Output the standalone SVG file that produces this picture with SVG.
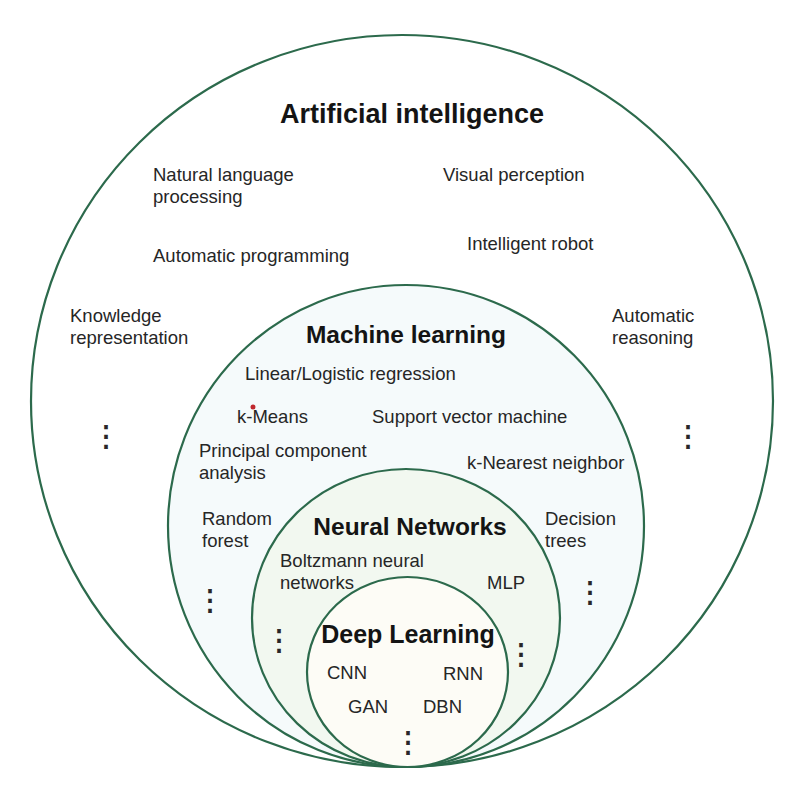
<svg xmlns="http://www.w3.org/2000/svg" width="800" height="801" viewBox="0 0 800 801">
<style>
.ring{stroke:#2c6a4c;stroke-width:2.2}
.t{font-family:"Liberation Sans",Arial,sans-serif;font-size:18.5px;fill:#262626}
.h{font-family:"Liberation Sans",Arial,sans-serif;font-weight:bold;fill:#141414}
.d{font-family:"DejaVu Sans",sans-serif;font-size:29px;fill:#262626;stroke:#262626;stroke-width:0.6;text-anchor:middle}
</style>
<rect width="800" height="801" fill="#ffffff"/>
<g id="artificial-intelligence">
<ellipse class="ring" cx="402" cy="401" rx="371" ry="366" fill="#ffffff"/>
<text class="h" x="412" y="123" font-size="27" text-anchor="middle">Artificial intelligence</text>
<text class="t" x="153" y="181">Natural language</text>
<text class="t" x="153" y="203">processing</text>
<text class="t" x="443" y="181">Visual perception</text>
<text class="t" x="153" y="262">Automatic programming</text>
<text class="t" x="467" y="250">Intelligent robot</text>
<text class="t" x="70" y="322">Knowledge</text>
<text class="t" x="70" y="344">representation</text>
<text class="t" x="612" y="322">Automatic</text>
<text class="t" x="612" y="344">reasoning</text>
<text class="d" x="106" y="446">⋮</text>
<text class="d" x="688" y="446">⋮</text>
</g>
<g id="machine-learning">
<ellipse class="ring" cx="406" cy="526" rx="238" ry="241" fill="#f5fafb"/>
<text class="h" x="406" y="343" font-size="24.5" text-anchor="middle">Machine learning</text>
<text class="t" x="245" y="380">Linear/Logistic regression</text>
<circle cx="253" cy="407" r="2.5" fill="#c0272d"/>
<text class="t" x="237" y="423">k-Means</text>
<text class="t" x="372" y="423">Support vector machine</text>
<text class="t" x="199" y="457">Principal component</text>
<text class="t" x="199" y="479">analysis</text>
<text class="t" x="467" y="469">k-Nearest neighbor</text>
<text class="t" x="202" y="525">Random</text>
<text class="t" x="202" y="547">forest</text>
<text class="t" x="545" y="525">Decision</text>
<text class="t" x="545" y="547">trees</text>
<text class="d" x="210" y="610">⋮</text>
<text class="d" x="590" y="602">⋮</text>
</g>
<g id="neural-networks">
<ellipse class="ring" cx="406" cy="618" rx="154" ry="149" fill="#f2f8f0"/>
<text class="h" x="410" y="535" font-size="24.5" text-anchor="middle">Neural Networks</text>
<text class="t" x="280" y="567">Boltzmann neural</text>
<text class="t" x="280" y="589">networks</text>
<text class="t" x="487" y="589">MLP</text>
<text class="d" x="279" y="650">⋮</text>
<text class="d" x="521" y="664">⋮</text>
</g>
<g id="deep-learning">
<ellipse class="ring" cx="407.5" cy="672" rx="100.5" ry="95" fill="#fdfcf6"/>
<text class="h" x="408" y="643" font-size="25" text-anchor="middle">Deep Learning</text>
<text class="t" x="327" y="679">CNN</text>
<text class="t" x="443" y="680">RNN</text>
<text class="t" x="348" y="713">GAN</text>
<text class="t" x="423" y="713">DBN</text>
<text class="d" x="408" y="752">⋮</text>
</g>
<g id="connectors"/>
</svg>
